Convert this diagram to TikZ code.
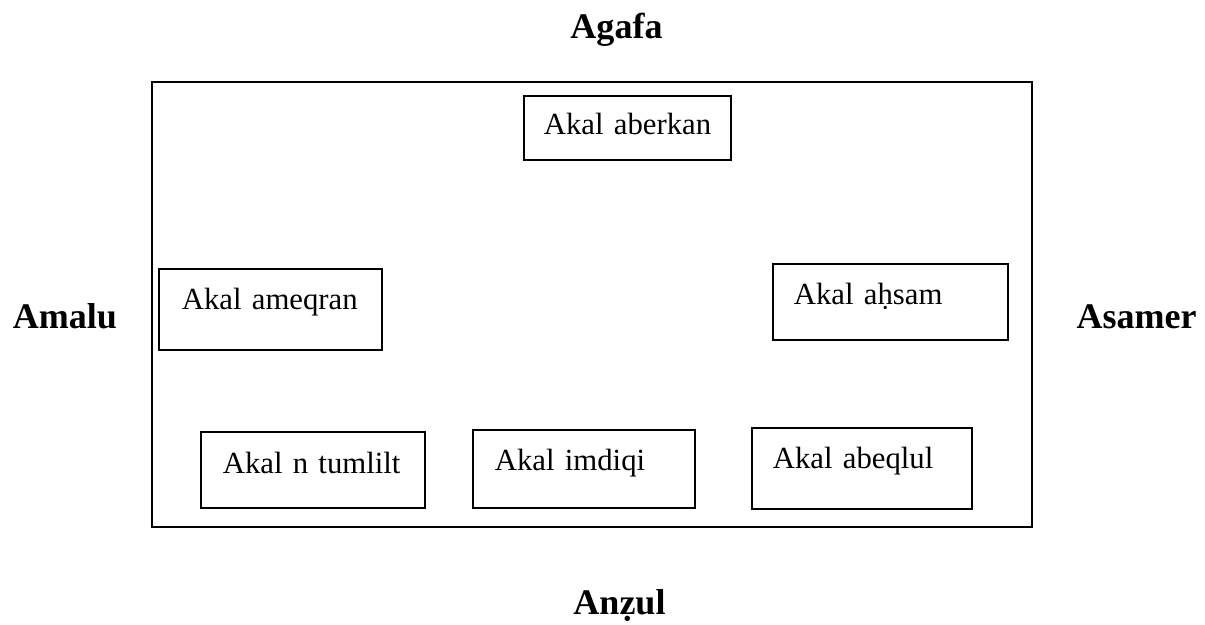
\documentclass[tikz,border=0pt]{standalone}
\usepackage{fontspec}
\setmainfont{Liberation Serif}
\begin{document}
\begin{tikzpicture}
[x=0.02cm, y=-0.02cm, line width=1pt,
 akal/.style={draw, anchor=north west, inner sep=0pt, align=left,
   font=\fontsize{17.5}{21}\selectfont},
 side/.style={anchor=base, inner sep=0pt, font=\fontsize{20.5}{24}\selectfont\bfseries}]
\useasboundingbox (0,0) rectangle (1205,625);
\draw (152,82) rectangle (1032,527); %% frame
%%
\node[akal, text width=4.14cm, text height=0.78cm, text depth=0.50cm] (aberkan) at (523,95)
  {\hspace*{0.40cm}Akal aberkan};
\node[akal, text width=4.46cm, text height=0.82cm, text depth=0.80cm] (ameqran) at (158,268)
  {\hspace*{0.46cm}Akal ameqran};
\node[akal, text width=4.70cm, text height=0.82cm, text depth=0.70cm] (ahsam) at (772,263)
  {\hspace*{0.42cm}Akal aḥsam};
\node[akal, text width=4.48cm, text height=0.84cm, text depth=0.68cm] (tumlilt) at (200,431)
  {\hspace*{0.44cm}Akal n tumlilt};
\node[akal, text width=4.44cm, text height=0.82cm, text depth=0.74cm] (imdiqi) at (472,429)
  {\hspace*{0.44cm}Akal imdiqi};
\node[akal, text width=4.40cm, text height=0.82cm, text depth=0.80cm] (abeqlul) at (751,427)
  {\hspace*{0.42cm}Akal abeqlul};
%% sides
\node[side] (agafa)  at (616.5,39)  {Agafa};
\node[side] (amalu)  at (65,329)    {Amalu};
\node[side] (asamer) at (1136.5,329) {Asamer};
\node[side] (anzul)  at (619.5,614) {Anẓul};
\end{tikzpicture}
\end{document}
